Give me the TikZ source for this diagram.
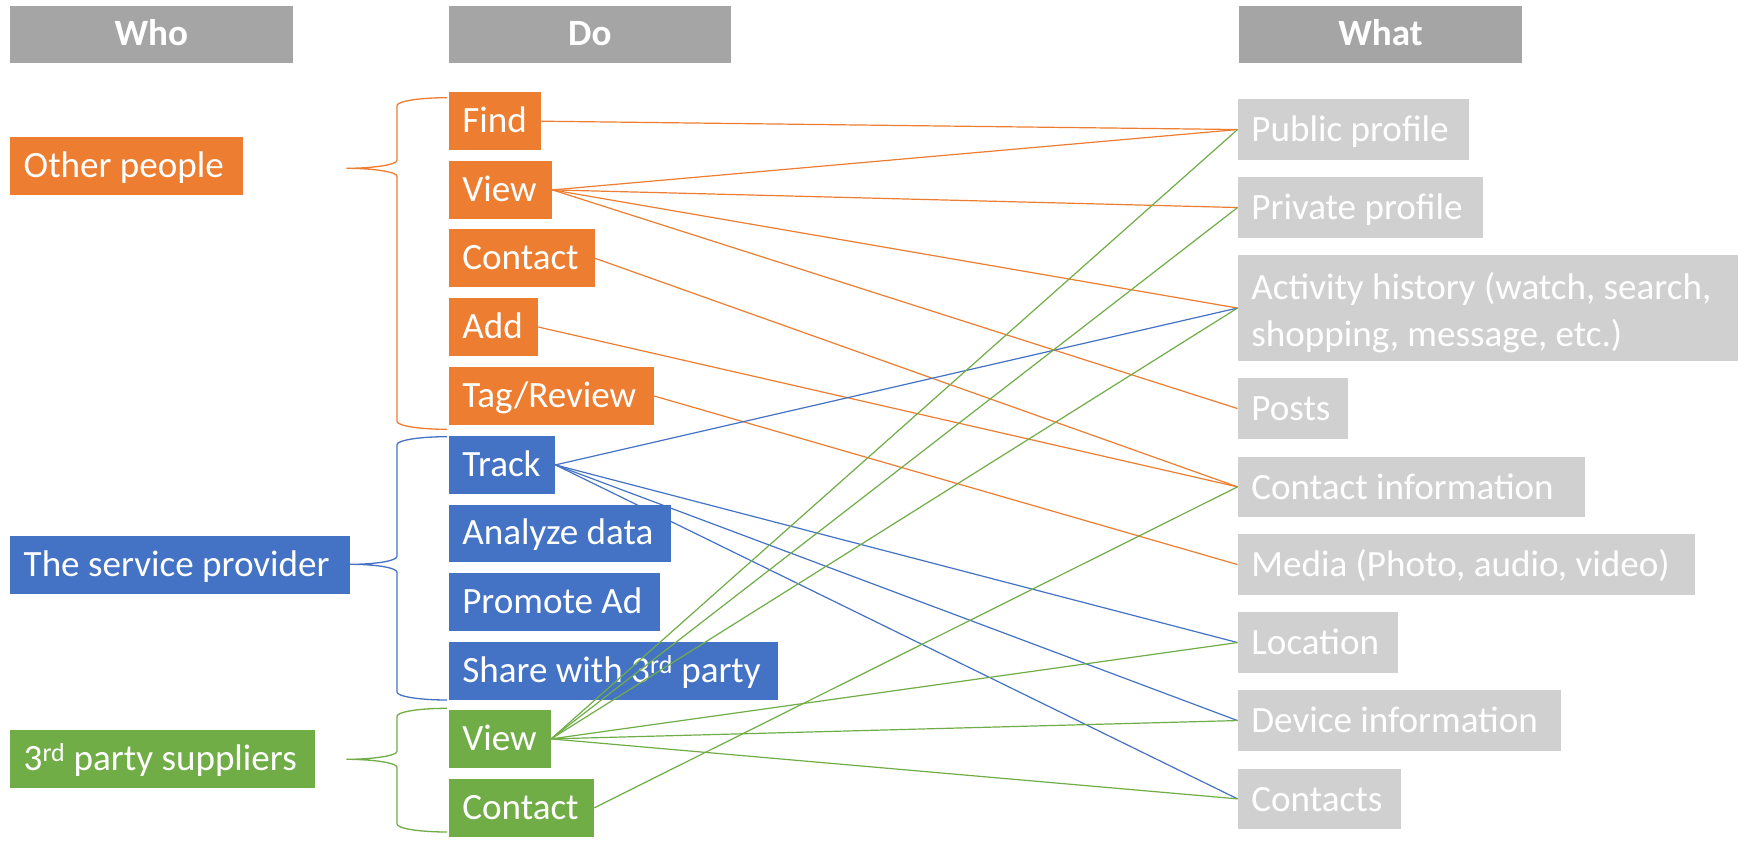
\documentclass[tikz,border=0pt]{standalone}
\usepackage{fontspec}
\setmainfont{Carlito}
\definecolor{oran}{HTML}{ED7D31}
\definecolor{blu}{HTML}{4472C4}
\definecolor{grn}{HTML}{70AD47}
\definecolor{hdr}{HTML}{A5A5A5}
\definecolor{lgr}{HTML}{D0D0D0}
\newcommand\bxw[2]{\makebox[#1pt][l]{#2}}
\newcommand\mybrace[5]{%
  \draw[#1, line width=1.3pt] (447,#2) .. controls (419,#2) and (397,#2+3.6) .. (397,#2+8)
    -- (397,#3-8) .. controls (397,#3-3.6) and (#5+27,#3) .. (#5,#3)
    .. controls (#5+27,#3) and (397,#3+3.6) .. (397,#3+8)
    -- (397,#4-8) .. controls (397,#4-3.6) and (419,#4) .. (447,#4);}
\begin{document}
\begin{tikzpicture}[x=1pt,y=-1pt,
  font=\fontsize{37.1}{46.5}\selectfont,
  hbox/.style={anchor=north west, fill=hdr, text=white, inner sep=0pt,
    minimum width=282.5pt, minimum height=56.7pt, font=\fontsize{37.1}{46.5}\selectfont\bfseries,
    text height=28pt, text depth=5.5pt},
  bbase/.style={anchor=north west, inner xsep=13.7pt, inner ysep=0pt, text=white},
  dbox/.style={bbase, minimum height=57.4pt, text height=28pt, text depth=5.5pt},
  obox/.style={dbox, fill=oran},
  bbox/.style={dbox, fill=blu},
  gbox/.style={dbox, fill=grn},
  wbox/.style={bbase, fill=lgr, minimum height=60.7pt, text height=29pt, text depth=4.5pt},
  ol/.style={draw=oran, line width=1.2pt},
  bl/.style={draw=blu, line width=1.2pt},
  gl/.style={draw=grn, line width=1.2pt}]
\fill[white] (0,0) rectangle (1749,853);
\useasboundingbox (0,0) rectangle (1749,853);

% headers
\node[hbox] (who) at (9.8,6) {Who};
\node[hbox] (do) at (448.4,6) {Do};
\node[hbox] (what) at (1239,6) {What};

% who column
\node[obox] (op) at (9.8,137) {\bxw{205.6}{Other people}};
\node[bbox] (sp) at (9.8,536) {\bxw{312.6}{The service provider}};
\node[gbox] (tp) at (9.8,730) {\bxw{277.6}{3\textsuperscript{rd} party suppliers}};

% do column
\node[obox] (find) at (448.4,92.3) {\bxw{65.2}{Find}};
\node[obox] (view) at (448.4,161) {\bxw{76.2}{View}};
\node[obox] (contact) at (448.4,229.3) {\bxw{118.6}{Contact}};
\node[obox] (add) at (448.4,298) {\bxw{61.6}{Add}};
\node[obox] (tag) at (448.4,367) {\bxw{177.6}{Tag/Review}};
\node[bbox] (track) at (448.4,436) {\bxw{79.2}{Track}};
\node[bbox] (analyze) at (448.4,504.3) {\bxw{194.6}{Analyze data}};
\node[bbox] (promote) at (448.4,573) {\bxw{183.6}{Promote Ad}};
\node[bbox] (share) at (448.4,642) {\bxw{301.9}{Share with 3\textsuperscript{rd} party}};
\node[gbox] (gview) at (448.4,710) {\bxw{74.9}{View}};
\node[gbox] (gcontact) at (448.4,779) {\bxw{117.9}{Contact}};

% what column
\node[wbox] (pub) at (1237.5,99) {\bxw{203.6}{Public profile}};
\node[wbox] (priv) at (1237.5,177) {\bxw{217.6}{Private profile}};
\node[bbase, fill=lgr, minimum height=105.7pt, align=left] (act) at (1237.5,255)
  {\rule{0pt}{36pt}\bxw{472.6}{Activity history (watch, search,}\\\bxw{472.6}{shopping, message, etc.)}};
\node[wbox] (posts) at (1237.5,378) {\bxw{82.6}{Posts}};
\node[wbox] (cinfo) at (1237.5,456.3) {\bxw{320.1}{Contact information}};
\node[wbox] (media) at (1237.5,534) {\bxw{430.1}{Media (Photo, audio, video)}};
\node[wbox] (loc) at (1237.5,612) {\bxw{132.6}{Location}};
\node[wbox] (dev) at (1237.5,690) {\bxw{295.6}{Device information}};
\node[wbox] (contacts) at (1237.5,768.3) {\bxw{135.6}{Contacts}};

% braces
\mybrace{oran}{97.7}{168.3}{429.3}{346.4}
\mybrace{blu}{436.7}{564.3}{700}{350}
\mybrace{grn}{708.3}{759.3}{832}{346.4}

% orange connectors
\draw[ol] (find.east) -- (pub.west);
\draw[ol] (view.east) -- (pub.west);
\draw[ol] (view.east) -- (priv.west);
\draw[ol] (view.east) -- (act.west);
\draw[ol] (view.east) -- (posts.west);
\draw[ol] (contact.east) -- (cinfo.west);
\draw[ol] (add.east) -- (cinfo.west);
\draw[ol] (tag.east) -- (media.west);
% blue connectors
\draw[bl] (track.east) -- (act.west);
\draw[bl] (track.east) -- (loc.west);
\draw[bl] (track.east) -- (dev.west);
\draw[bl] (track.east) -- (contacts.west);
% green connectors
\draw[gl] (gview.east) -- (pub.west);
\draw[gl] (gview.east) -- (priv.west);
\draw[gl] (gview.east) -- (act.west);
\draw[gl] (gview.east) -- (loc.west);
\draw[gl] (gview.east) -- (dev.west);
\draw[gl] (gview.east) -- (contacts.west);
\draw[gl] (gcontact.east) -- (cinfo.west);
\end{tikzpicture}
\end{document}
